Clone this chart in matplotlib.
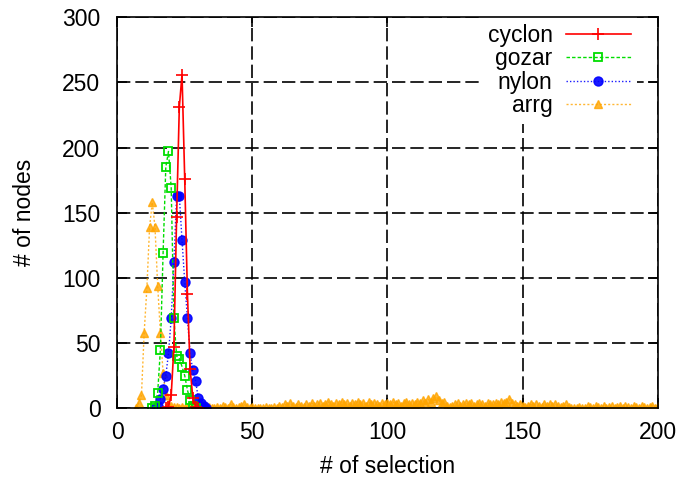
import numpy as np
import matplotlib
matplotlib.use('Agg')
import matplotlib.pyplot as plt

plt.rcParams['font.family'] = ['Liberation Sans', 'DejaVu Sans']

# cyclon
cyclon_x = [18, 19, 20, 21, 22, 23, 24, 25, 26, 27, 28, 29, 30]
cyclon_y = [0, 1, 10, 47, 147, 231, 256, 176, 88, 30, 8, 1, 0]

# gozar
gozar_x = [13, 14, 15, 16, 17, 18, 19, 20, 21, 22, 23, 24, 25, 26, 27, 28, 29]
gozar_y = [0, 2, 12, 45, 119, 185, 197, 169, 69, 40, 38, 32, 25, 14, 6, 2, 0]

# nylon
nylon_x = [14, 15, 16, 17, 18, 19, 20, 21, 22, 23, 24, 25, 26, 27, 28, 29, 30, 31, 32, 33]
nylon_y = [0, 2, 7, 15, 25, 42, 69, 112, 163, 163, 129, 97, 69, 42, 29, 21, 8, 4, 2, 0]

# arrg: peak part + long tail (x = 22..200)
arrg_peak_x = [7, 8, 9, 10, 11, 12, 13, 14, 15, 16, 17, 18, 19, 20, 21]
arrg_peak_y = [0, 4, 10, 58, 92, 139, 158, 139, 94, 58, 27, 10, 3, 2, 1]
arrg_tail = [
    1, 0, 1, 0, 0, 1, 0, 0,
    0, 1, 0, 0, 1, 0, 0, 1, 0, 2,
    1, 0, 3, 1, 0, 1, 2, 3, 1, 0,
    1, 0, 0, 0, 0, 1, 0, 0, 1, 0,
    2, 1, 3, 2, 4, 2, 1, 3, 2, 1,
    3, 2, 4, 2, 3, 4, 2, 3, 5, 3,
    2, 4, 3, 5, 3, 4, 2, 4, 3, 5,
    3, 4, 2, 5, 3, 4, 3, 2, 4, 3,
    4, 3, 5, 3, 4, 2, 4, 5, 3, 4,
    3, 5, 4, 6, 4, 7, 5, 8, 9, 6,
    4, 5, 2, 1, 2, 3, 4, 2, 3, 4,
    3, 4, 2, 3, 4, 3, 2, 4, 3, 3,
    4, 3, 5, 4, 5, 7, 4, 3, 2, 3,
    2, 1, 2, 3, 2, 3, 2, 1, 3, 2,
    3, 2, 3, 2, 1, 2, 3, 1, 0, 0,
    0, 1, 0, 0, 2, 1, 0, 2, 1, 0,
    2, 0, 1, 2, 0, 1, 2, 0, 2, 1,
    0, 2, 1, 0, 2, 1, 0, 1, 2, 0,
    2,
]
arrg_x = arrg_peak_x + list(range(22, 22 + len(arrg_tail)))
arrg_y = arrg_peak_y + arrg_tail

fig = plt.figure(figsize=(6.81, 4.78), dpi=100)
ax = fig.add_axes([0.172, 0.146, 0.794, 0.818])

ax.plot(arrg_x, arrg_y, color='#FFA500', ls=(0, (1.5, 1.5)), lw=1.0, alpha=0.8,
        marker='^', ms=6, mec='#FFA500', mfc='#FFA500', label='arrg', zorder=3)
ax.plot(nylon_x, nylon_y, color='#0000FF', ls=(0, (1, 1.5)), lw=1.0, alpha=0.9,
        marker='o', ms=6.5, mec='#0000FF', mfc='#0000FF', label='nylon', zorder=4)
ax.plot(gozar_x, gozar_y, color='#00DD00', ls=(0, (2.5, 1.5)), lw=1.0,
        marker='s', ms=6, mec='#00DD00', mfc='none', mew=1.3, label='gozar', zorder=5)
ax.plot(cyclon_x, cyclon_y, color='#FF0000', ls='-', lw=1.2,
        marker='+', ms=8, mew=1.2, label='cyclon', zorder=6)

ax.set_xlim(0, 200)
ax.set_ylim(0, 300)
ax.set_xticks([0, 50, 100, 150, 200])
ax.set_yticks([0, 50, 100, 150, 200, 250, 300])
ax.tick_params(direction='in', top=True, right=True, length=7, width=1.2,
               labelsize=16.5, pad=9)
ax.tick_params(axis='y', pad=12)
ax.grid(True, color='black', ls=(0, (8, 3)), lw=1.2)
for s in ax.spines.values():
    s.set_linewidth(1.2)
    s.set_zorder(12)

ax.set_xlabel('# of selection', fontsize=16.5, labelpad=8)
ax.set_ylabel('# of nodes', fontsize=16.5, labelpad=19)

handles, labels = ax.get_legend_handles_labels()
order = [3, 2, 1, 0]
leg = ax.legend([handles[i] for i in order], [labels[i] for i in order],
                loc='upper right', markerfirst=False, fontsize=16.5,
                frameon=True, facecolor='white', edgecolor='none', framealpha=1,
                fancybox=False, handlelength=2.8, labelspacing=0.02,
                borderaxespad=0.3, borderpad=0.3, handletextpad=0.6,
                bbox_to_anchor=(0.975, 1.018))
leg.set_zorder(10)

fig.savefig('out.png', dpi=100)
